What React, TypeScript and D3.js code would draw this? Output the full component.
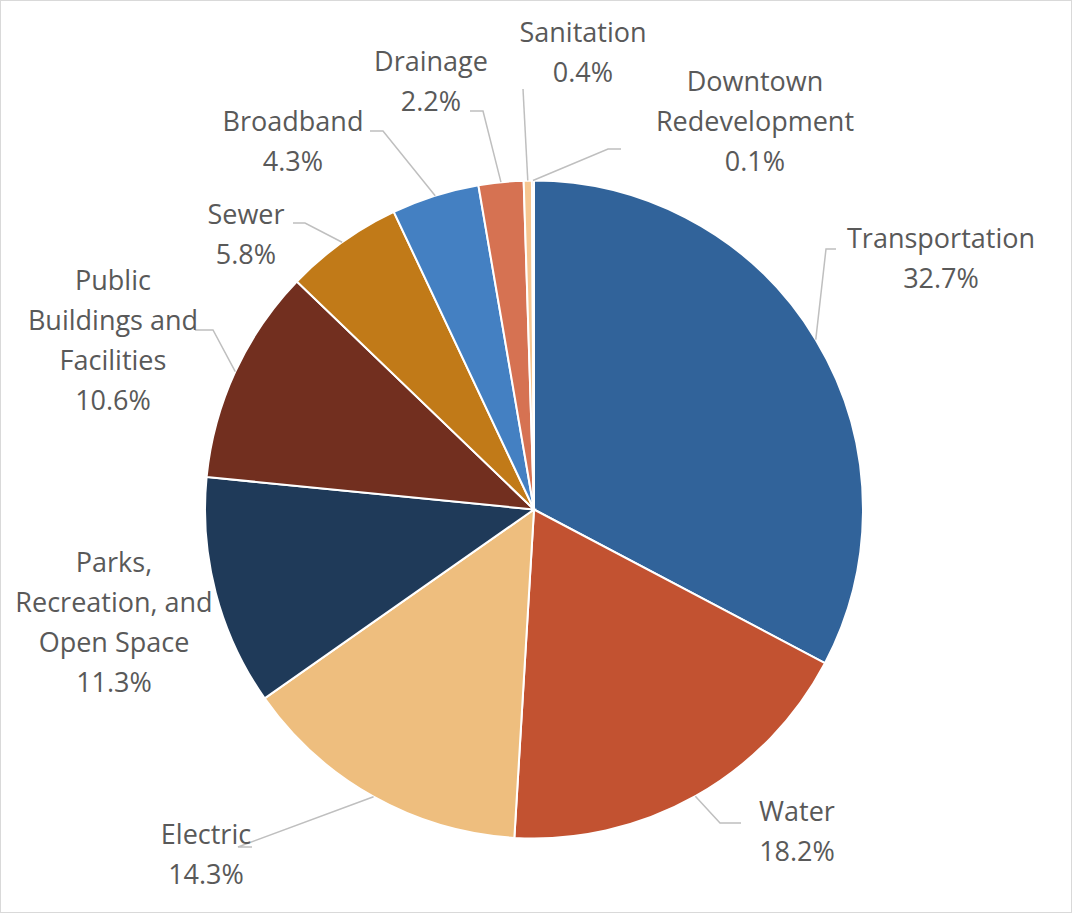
import React from "react";
import * as d3 from "d3";

const categories = [
  "Transportation",
  "Water",
  "Electric",
  "Parks, Recreation, and Open Space",
  "Public Buildings and Facilities",
  "Sewer",
  "Broadband",
  "Drainage",
  "Sanitation",
  "Downtown Redevelopment",
];
const values = [32.7, 18.2, 14.3, 11.3, 10.6, 5.8, 4.3, 2.2, 0.4, 0.1];
const colors = [
  "#31639A",
  "#C25231",
  "#EEBE7E",
  "#1F3A59",
  "#722F1F",
  "#C17A18",
  "#4480C2",
  "#D67252",
  "#F6C690",
  "#2F5B8E",
];
const labelLines = [
  ["Transportation"],
  ["Water"],
  ["Electric"],
  ["Parks,", "Recreation, and", "Open Space"],
  ["Public", "Buildings and", "Facilities"],
  ["Sewer"],
  ["Broadband"],
  ["Drainage"],
  ["Sanitation"],
  ["Downtown", "Redevelopment"],
];

// layout: label text center x, first baseline y, and leader elbow points (null = no leader)
const labelLayout: { x: number; y: number; leader: [number, number][] | null }[] = [
  { x: 941, y: 248, leader: [[836, 249], [826, 249]] },
  { x: 797, y: 821, leader: [[741, 823], [720, 823]] },
  { x: 206, y: 844, leader: [[252, 847], [238, 847]] },
  { x: 114, y: 572, leader: null },
  { x: 113, y: 290, leader: [[195, 330], [213, 330]] },
  { x: 246, y: 224, leader: [[293, 223], [305, 223]] },
  { x: 293, y: 131, leader: [[370, 131], [383, 131]] },
  { x: 431, y: 71, leader: [[470, 111], [483, 111]] },
  { x: 583, y: 42, leader: [[523, 89]] },
  { x: 755, y: 91, leader: [[621, 149], [608, 149]] },
];

const W = 1072;
const H = 913;
const CX = 534;
const CY = 509.5;
const R = 329;
const LINE_H = 40;

export default function App() {
  const data = categories.map((c, i) => ({ name: c, value: values[i], i }));
  const pie = d3.pie<any>().value((d) => d.value).sort(null);
  const arcs = pie(data);
  const arc = d3.arc<any>().innerRadius(0).outerRadius(R);

  return (
    <svg
      width={W}
      height={H}
      style={{ position: "absolute", left: 0, top: 0, display: "block" }}
      fontFamily="'Open Sans', sans-serif"
    >
      <rect x={0.5} y={0.5} width={W - 1} height={H - 1} fill="#fff" stroke="#D9D9D9" />
      <g transform={`translate(${CX},${CY})`}>
        {arcs.map((a, i) => (
          <path key={i} d={arc(a) as string} fill={colors[i]} stroke="#fff" strokeWidth={2} />
        ))}
      </g>
      {arcs.map((a, i) => {
        const L = labelLayout[i];
        const mid = (a.startAngle + a.endAngle) / 2;
        const ex = CX + R * Math.sin(mid);
        const ey = CY - R * Math.cos(mid);
        const lines = labelLines[i];
        const pts: [number, number][] | null = L.leader ? [...L.leader, [ex, ey]] : null;
        return (
          <g key={i}>
            {pts && (
              <path
                d={d3.line()(pts) as string}
                fill="none"
                stroke="#BFBFBF"
                strokeWidth={1.5}
              />
            )}
            <text
              textAnchor="middle"
              fill="#595959"
              fontSize={27}
            >
              {[...lines, `${values[i].toFixed(1)}%`].map((t, k) => (
                <tspan key={k} x={L.x} y={L.y + k * LINE_H}>
                  {t}
                </tspan>
              ))}
            </text>
          </g>
        );
      })}
    </svg>
  );
}
